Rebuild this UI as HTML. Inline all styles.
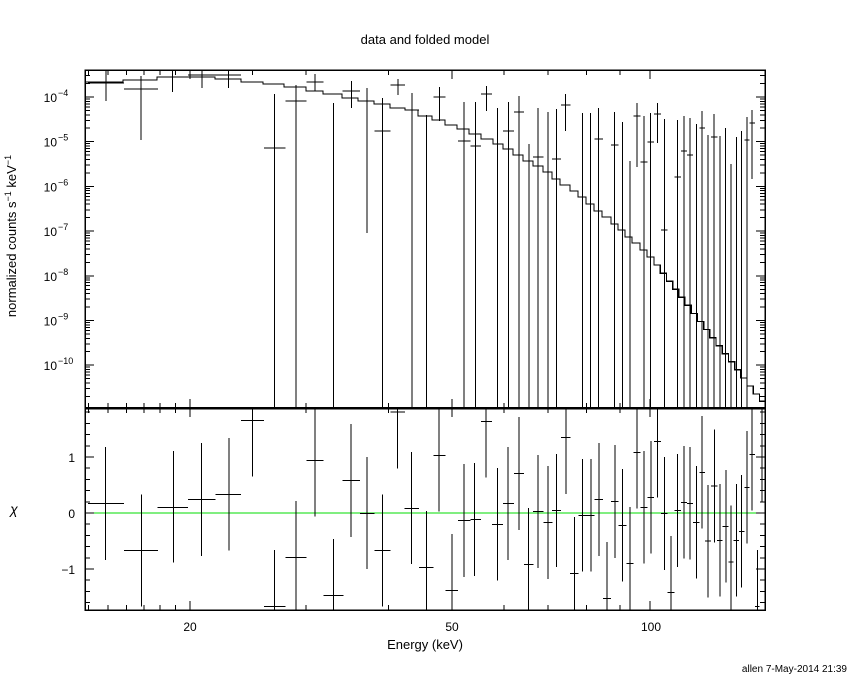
<!DOCTYPE html>
<html><head><meta charset="utf-8"><style>
body{margin:0;background:#fff;}
svg{display:block;font-family:"Liberation Sans",sans-serif;}
#g line,#g rect,#g path{shape-rendering:crispEdges;}
</style></head><body>
<svg id="s" width="850" height="680" xmlns="http://www.w3.org/2000/svg">
<text x="425" y="44" text-anchor="middle" font-size="13">data and folded model</text>
<text x="425" y="649" text-anchor="middle" font-size="13">Energy (keV)</text>
<text x="847" y="672" text-anchor="end" font-size="10">allen  7-May-2014 21:39</text>
<text transform="translate(16,236) rotate(-90)" text-anchor="middle" font-size="13">normalized counts s<tspan dy="-5" font-size="9">−1</tspan><tspan dy="5"> keV</tspan><tspan dy="-5" font-size="9">−1</tspan></text>
<text x="14" y="514" text-anchor="middle" font-size="14" font-style="italic">χ</text>
<g id="g" stroke="#000" fill="none" stroke-width="1"></g>
</svg>
<script>
var g=document.getElementById('g'),svg=document.getElementById('s'),h='';
function L(x1,y1,x2,y2,w,c){h+='<line x1="'+x1+'" y1="'+y1+'" x2="'+x2+'" y2="'+y2+'"'+(w?' stroke-width="'+w+'"':'')+(c?' stroke="'+c+'"':'')+'/>';}
function X(E){return 85+658*Math.log10(E/13.84);}
function Yt(v){return 97+44.7*(-4-Math.log10(v));}
var t='';
L(85,513,765,513,1,'#00dd00');
var R=[[58,295,18,100,126,465],[140,436,100,177,268,605],[212,307,176,245,138,473],[276,283,245,308,114,453],[338,268,308,366,99,437],[392,46,366,418,10,215],[442,604,418,466,435,620],[490,457,466,514,288,620],[533,166,514,553,10,335],[576,571,553,598,402,620],[615,226,596,636,57,396],[652,325,636,668,156,492],[687,436,668,705,268,605],[721,21,705,738,10,190],[753,310,737,770,141,477],[786,487,770,802,318,620],[815,151,802,830,10,320],[844,556,830,858,387,620],[872,346,858,886,177,516],[896,343,886,910,174,513],[922,49,910,935,10,218],[948,358,935,960,189,527],[972,295,960,985,126,465],[996,205,985,1008,36,375],[1018,478,1008,1030,309,620],[1040,319,1028,1052,150,489],[1062,352,1052,1073,183,522],[1082,316,1072,1092,147,486],[1103,97,1092,1113,10,267],[1122,505,1112,1132,336,620],[1141,331,1132,1150,162,500],[1160,331,1150,1168,162,500],[1178,283,1168,1187,114,453],[1196,580,1187,1205,411,620],[1214,289,1205,1222,120,459],[1231,361,1222,1240,192,530],[1248,475,1240,1257,306,620],[1264,142,1256,1272,10,311],[1280,307,1272,1288,138,476],[1296,277,1288,1303,108,446],[1311,109,1303,1319,10,278],[1327,325,1319,1334,156,495],[1342,562,1334,1350,393,620],[1356,316,1349,1364,147,486],[1371,292,1364,1378,123,461],[1385,295,1378,1392,126,464],[1399,352,1392,1406,183,521],[1412,202,1406,1419,33,370],[1426,408,1419,1432,240,578],[1440,243,1432,1447,74,412],[1453,406,1446,1459,237,575],[1466,364,1459,1472,195,533],[1478,471,1472,1484,302,620],[1490,406,1484,1496,237,575],[1502,379,1496,1508,210,548],[1514,247,1508,1520,78,416],[1526,148,1520,1532,10,317],[1538,604,1532,1543,435,620],[1548,156,1543,1553,10,290]];
function rx(v){return 80+v/2.27;}function ry(v){return Math.min(610,Math.max(408,405+v/3));}
var edges=[];
R.forEach(function(r){var xc=rx(r[0]),y=405+r[1]/3;edges.push([rx(r[2]),rx(r[3])]);
L(xc,ry(r[4]),xc,ry(r[5]));if(y>409&&y<609)L(rx(r[2]),y,rx(r[3]),y);});
var T=[[1,83,71,101],[2,89,76,140],[3,77,68,92],[4,75,68,88],[5,75,68,88],[6,null,70,75],[7,148,94,408],[8,101,85,408],[9,82,74,91],[10,null,103,408],[11,91,81,108],[12,101,88,233],[13,131,98,408],[14,85,79,95],[15,110,93,408],[16,null,115,408],[17,97,87,121],[19,141,102,408],[20,146,102,408],[21,94,86,111],[22,null,108,408],[23,131,102,408],[24,112,96,408],[25,null,144,408],[26,157,108,408],[27,null,112,408],[28,159,109,408],[29,105,94,131],[31,null,113,408],[32,null,113,408],[33,139,108,408],[35,145,112,408],[36,null,122,408],[37,null,161,408],[38,116,103,167],[39,162,116,408],[40,142,113,408],[41,114,103,143],[42,230,119,408],[44,177,120,408],[45,151,116,408],[46,155,118,408],[47,null,124,408],[48,128,111,408],[49,null,135,408],[50,137,114,408],[51,null,136,408],[52,null,128,408],[53,null,164,408],[54,null,137,408],[55,null,131,408],[56,140,117,408],[57,123,110,179]];
T.forEach(function(p){var e=edges[p[0]-1],xc=(e[0]+e[1])/2;L(xc,Math.max(70,p[2]),xc,p[3]);if(p[1])L(e[0],p[1],e[1],p[1]);});
var M=[[85,123,82],[123,157,80],[157,215,77],[215,241,79],[241,263,82],[263,284,84],[284,306,87],[306,323,91],[323,342,94],[342,358,98],[358,374,101],[374,390,104],[390,405,108],[405,418,110],[418,432,116],[432,445,120],[445,457,125],[457,469,129],[469,481,134],[481,493,139],[493,503,144],[503,513,149],[513,523,155],[523,533,161],[533,543,166],[543,552,172],[552,560,179],[560,570,185],[570,578,191],[578,586,197],[586,594,204],[594,602,211],[602,611,217],[611,618,224],[618,625,230],[625,632,237],[632,640,243],[640,647,250],[647,654,257]];
var x=654,y=257;while(x<765){var nx=Math.min(765,x+6.2);var ny=y+(nx-x)*1.3;M.push([x,nx,ny]);x=nx;y=ny;}
var d='M'+M[0][0]+' '+M[0][2];M.forEach(function(s,i){if(i>0)d+=' L'+s[0]+' '+s[2];d+=' L'+s[1]+' '+s[2];});
h+='<path d="'+d+'" stroke-width="1.3"/>';
h+='<rect x="85" y="70" width="680" height="338" stroke-width="1.5"/>';
h+='<rect x="85" y="408" width="680" height="202" stroke-width="1.5"/>';
L(85,408,765,408,2.5);
var maj=[20,50,100],mins=[14,15,16,17,18,19,30,40,60,70,80,90];
[[70,1],[408,-1],[408,1],[610,-1]].forEach(function(a){
maj.forEach(function(E){var xx=X(E);L(xx,a[0],xx,a[0]+a[1]*9);});
mins.forEach(function(E){var xx=X(E);L(xx,a[0],xx,a[0]+a[1]*5);});});
for(var dd=-11;dd<=-4;dd++){for(var k=1;k<10;k++){var v=k*Math.pow(10,dd),yy=Yt(v);if(yy<70||yy>408)continue;var len=k==1?9:5;L(85,yy,85+len,yy);L(765,yy,765-len,yy);}}
for(var e=-4;e>=-10;e--){var yy=Yt(Math.pow(10,e));t+='<text x="57" y="'+(yy+5)+'" text-anchor="end" font-size="12">10</text><text x="58" y="'+(yy-1)+'" font-size="9">−'+(-e)+'</text>';}
for(var r=-1.6;r<=1.8;r+=0.2){var yy=513-56*r,len=Math.abs(Math.round(r)-r)<0.01?9:5;L(85,yy,85+len,yy);L(765,yy,765-len,yy);}
t+='<text x="75" y="462" text-anchor="end" font-size="12">1</text><text x="75" y="518" text-anchor="end" font-size="12">0</text><text x="75" y="574" text-anchor="end" font-size="12">−1</text>';
t+='<text x="190" y="631" text-anchor="middle" font-size="12">20</text><text x="452" y="631" text-anchor="middle" font-size="12">50</text><text x="651" y="631" text-anchor="middle" font-size="12">100</text>';
g.innerHTML=h;svg.insertAdjacentHTML('beforeend',t);
</script>
</body></html>
